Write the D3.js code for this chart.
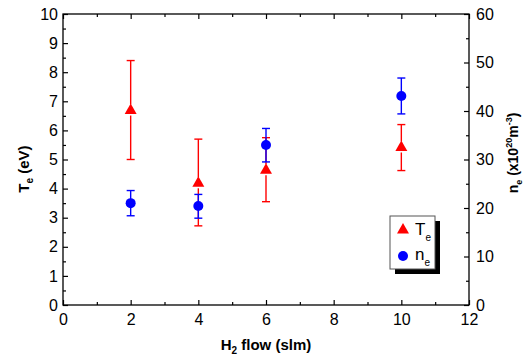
<!DOCTYPE html>
<html>
<head>
<meta charset="utf-8">
<script src="https://cdn.jsdelivr.net/npm/d3@7"></script>
<style>
  body { margin: 0; background: #fff; }
  text { font-family: "Liberation Sans", Arial, sans-serif; fill: #000; }
  .axis path, .axis line { stroke: #000; }
</style>
</head>
<body>
<div id="chart"></div>
<script>
// H2 flow (slm)
const flow = [2, 4, 6, 10];

// electron temperature (eV) with error bar ends
const te = [6.7, 4.2, 4.65, 5.43];
const teLow = [5.0, 2.72, 3.55, 4.62];
const teHigh = [8.4, 5.7, 5.75, 6.2];

// electron density (x10^20 m^-3) with error bar ends
const ne = [21.0, 20.4, 33.0, 43.1];
const neLow = [18.4, 17.9, 29.5, 39.4];
const neHigh = [23.6, 22.8, 36.4, 46.8];

const xTicks = [0, 2, 4, 6, 8, 10, 12];
const yTicks = [0, 1, 2, 3, 4, 5, 6, 7, 8, 9, 10];
const y2Ticks = [0, 10, 20, 30, 40, 50, 60];

const W = 531, H = 358;
const margin = {top: 14, right: 62, bottom: 53, left: 63};
const width = W - margin.left - margin.right;
const height = H - margin.top - margin.bottom;

const svg = d3.select("#chart").append("svg")
  .attr("width", W)
  .attr("height", H);

const g = svg.append("g")
  .attr("transform", "translate(" + margin.left + "," + margin.top + ")");

const x = d3.scaleLinear().domain([0, 12]).range([0, width]);
const y = d3.scaleLinear().domain([0, 10]).range([height, 0]);
const y2 = d3.scaleLinear().domain([0, 60]).range([height, 0]);

// frame
g.append("rect")
  .attr("width", width).attr("height", height)
  .attr("fill", "none").attr("stroke", "#000").attr("stroke-width", 1.3);

// minor ticks (inward)
function minor(axisFn, scale, vals, transform) {
  g.append("g").attr("class", "axis").attr("transform", transform)
    .call(axisFn(scale).tickValues(vals).tickSize(-3).tickFormat(""))
    .call(s => s.select(".domain").remove());
}
const half = d3.range(0.5, 10, 1);
minor(d3.axisLeft, y, half, "translate(0,0)");
minor(d3.axisBottom, x, d3.range(1, 12, 2), "translate(0," + height + ")");
minor(d3.axisTop, x, d3.range(1, 12, 2), "translate(0,0)");
minor(d3.axisRight, y2, [5, 15, 25, 35, 45, 55], "translate(" + width + ",0)");

// major axes
const fs = "16px";
const xAxis = g.append("g").attr("class", "axis")
  .attr("transform", "translate(0," + height + ")")
  .call(d3.axisBottom(x).tickValues(xTicks).tickSize(-5).tickPadding(9));
xAxis.selectAll("text").style("font-size", fs);

g.append("g").attr("class", "axis")
  .call(d3.axisTop(x).tickValues(xTicks).tickSize(-5).tickFormat(""));

const yAxis = g.append("g").attr("class", "axis")
  .call(d3.axisLeft(y).tickValues(yTicks).tickSize(-5).tickPadding(5));
yAxis.selectAll("text").style("font-size", fs);

const y2Axis = g.append("g").attr("class", "axis")
  .attr("transform", "translate(" + width + ",0)")
  .call(d3.axisRight(y2).tickValues(y2Ticks).tickSize(-5).tickPadding(7));
y2Axis.selectAll("text").style("font-size", fs);

g.selectAll(".axis .domain").remove();
g.selectAll(".axis line").attr("stroke-width", 1.2);

// axis titles
const tfs = "15px";
const xt = svg.append("text")
  .attr("x", margin.left + width / 2).attr("y", 350)
  .attr("text-anchor", "middle")
  .style("font-size", tfs).style("font-weight", "bold");
xt.append("tspan").text("H");
xt.append("tspan").attr("dy", 4).style("font-size", "10px").text("2");
xt.append("tspan").attr("dy", -4).text(" flow (slm)");

const yt = svg.append("text")
  .attr("transform", "translate(29," + (margin.top + 155) + ") rotate(-90)")
  .attr("text-anchor", "middle")
  .style("font-size", tfs).style("font-weight", "bold");
yt.append("tspan").text("T");
yt.append("tspan").attr("dy", 4).style("font-size", "10px").text("e");
yt.append("tspan").attr("dy", -4).text(" (eV)");

const y2t = svg.append("text")
  .attr("transform", "translate(518," + (margin.top + 139) + ") rotate(-90)")
  .attr("text-anchor", "middle")
  .style("font-size", "14px").style("font-weight", "bold");
y2t.append("tspan").text("n");
y2t.append("tspan").attr("dy", 4).style("font-size", "9px").text("e");
y2t.append("tspan").attr("dy", -4).text(" (x10");
y2t.append("tspan").attr("dy", -6).style("font-size", "9px").text("20");
y2t.append("tspan").attr("dy", 6).text("m");
y2t.append("tspan").attr("dy", -6).style("font-size", "9px").text("-3");
y2t.append("tspan").attr("dy", 6).text(")");

// error bars
function errorBars(vals, lows, highs, scale, color, gap) {
  const eb = g.append("g").attr("stroke", color).attr("stroke-width", 1.4);
  flow.forEach(function (f, i) {
    const cx = x(f), cy = scale(vals[i]);
    const top = scale(highs[i]), bot = scale(lows[i]);
    eb.append("line").attr("x1", cx).attr("x2", cx).attr("y1", top).attr("y2", cy - gap);
    eb.append("line").attr("x1", cx).attr("x2", cx).attr("y1", cy + gap).attr("y2", bot);
    eb.append("line").attr("x1", cx - 4).attr("x2", cx + 4).attr("y1", top).attr("y2", top);
    eb.append("line").attr("x1", cx - 4).attr("x2", cx + 4).attr("y1", bot).attr("y2", bot);
  });
}
errorBars(te, teLow, teHigh, y, "#ff0000", 5.5);
errorBars(ne, neLow, neHigh, y2, "#0000ff", 0);

const tri = d3.symbol().type(d3.symbolTriangle).size(62);

g.selectAll(".te").data(flow).join("path")
  .attr("class", "te")
  .attr("d", tri)
  .attr("transform", (d, i) => "translate(" + x(d) + "," + (y(te[i]) + 0.5) + ")")
  .attr("fill", "#ff0000");

g.selectAll(".ne").data(flow).join("circle")
  .attr("class", "ne")
  .attr("cx", d => x(d))
  .attr("cy", (d, i) => y2(ne[i]))
  .attr("r", 5)
  .attr("fill", "#0000ff");

// legend
const lg = svg.append("g").attr("transform", "translate(390,216)");
lg.append("rect").attr("x", 5).attr("y", 5).attr("width", 45).attr("height", 53).attr("fill", "#000");
lg.append("rect").attr("width", 45).attr("height", 53)
  .attr("fill", "#fff").attr("stroke", "#555").attr("stroke-width", 1);
lg.append("path").attr("d", tri).attr("transform", "translate(13,14)").attr("fill", "#ff0000");
lg.append("circle").attr("cx", 13).attr("cy", 40).attr("r", 5).attr("fill", "#0000ff");
const l1 = lg.append("text").attr("x", 25).attr("y", 19).style("font-size", "17px");
l1.append("tspan").text("T");
l1.append("tspan").attr("dy", 6).style("font-size", "10px").text("e");
const l2 = lg.append("text").attr("x", 25).attr("y", 44).style("font-size", "17px");
l2.append("tspan").text("n");
l2.append("tspan").attr("dy", 6).style("font-size", "10px").text("e");
</script>
</body>
</html>
